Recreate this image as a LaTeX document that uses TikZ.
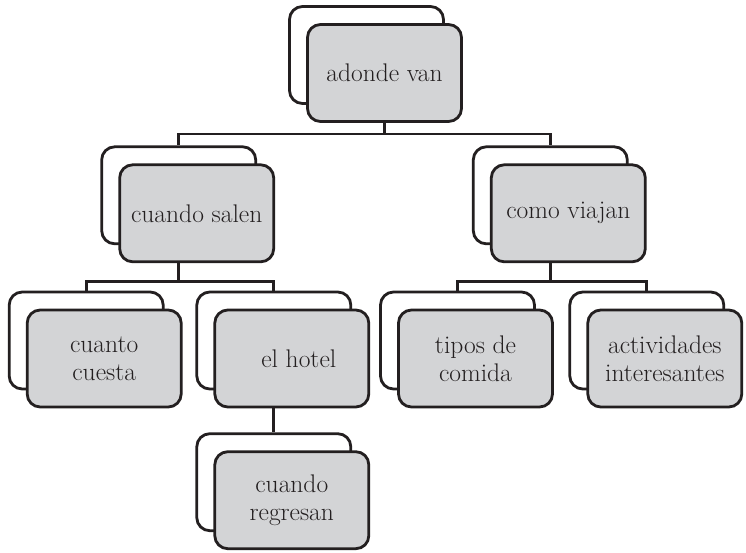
\documentclass[tikz,border=0pt]{standalone}
\usepackage{fontspec}
\usetikzlibrary{positioning,calc}
\definecolor{boxgray}{HTML}{D3D4D6}
\definecolor{inkdark}{HTML}{231F20}

\begin{document}
\begin{tikzpicture}[x=1pt, y=1pt,
        backbox/.style={rectangle, draw=inkdark, line width=2.8pt, rounded corners=13pt, minimum width=154pt, minimum height=97pt, inner sep=0pt, fill=white},
        frontbox/.style={rectangle, draw=inkdark, line width=2.8pt, rounded corners=13pt, minimum width=154pt, minimum height=97pt, inner sep=0pt, fill=boxgray, align=center, text=inkdark, font=\fontsize{25.5}{28}\selectfont},
        link/.style={draw=inkdark, line width=2.8pt},
      ]
      \useasboundingbox (0,0) rectangle (746,-552);
      % Level 1
      \node [backbox] (adondeB) at (366.5,-55) {};
      \node [frontbox] (adonde) at ([shift={(18,-18)}]adondeB) {adonde van};
      % Level 2
      \node [backbox] (salenB) at (178.7,-195.3) {};
      \node [frontbox] (salen) at ([shift={(18,-18)}]salenB) {cuando salen};
      \node [backbox] (viajanB) at (550.3,-195.3) {};
      \node [frontbox] (viajan) at ([shift={(18,-18)}]viajanB) {como viajan};
      % Level 3
      \node [backbox] (cuestaB) at (86.2,-340.5) {};
      \node [frontbox] (cuesta) at ([shift={(18,-18)}]cuestaB) {cuanto\\cuesta};
      \node [backbox] (hotelB) at (273.8,-340.5) {};
      \node [frontbox] (hotel) at ([shift={(18,-18)}]hotelB) {\hspace*{14pt}el hotel};
      \node [backbox] (comidaB) at (457.5,-340.5) {};
      \node [frontbox] (comida) at ([shift={(18,-18)}]comidaB) {tipos de\\comida};
      \node [backbox] (activB) at (646.8,-340.5) {};
      \node [frontbox] (activ) at ([shift={(18,-18)}]activB) {actividades\\interesantes};
      % Level 4
      \node [backbox] (regresanB) at (273.8,-482.2) {};
      \node [frontbox] (regresan) at ([shift={(18,-18)}]regresanB) {cuando\\regresan};
      % Connectors
      \draw [link] (adonde.south) -- ++(0,-11) -| (salenB.north);
      \draw [link] (adonde.south) -- ++(0,-11) -| (viajanB.north);
      \draw [link] (salenB.south |- salen.south) -- ++(0,-18) -| (cuestaB.north);
      \draw [link] (salenB.south |- salen.south) -- ++(0,-18) -| (hotelB.north);
      \draw [link] (viajanB.south |- viajan.south) -- ++(0,-18) -| (comidaB.north);
      \draw [link] (viajanB.south |- viajan.south) -- ++(0,-18) -| (activB.north);
      \draw [link] (hotelB.south |- hotel.south) -- (regresanB.north);
    \end{tikzpicture}
\end{document}
